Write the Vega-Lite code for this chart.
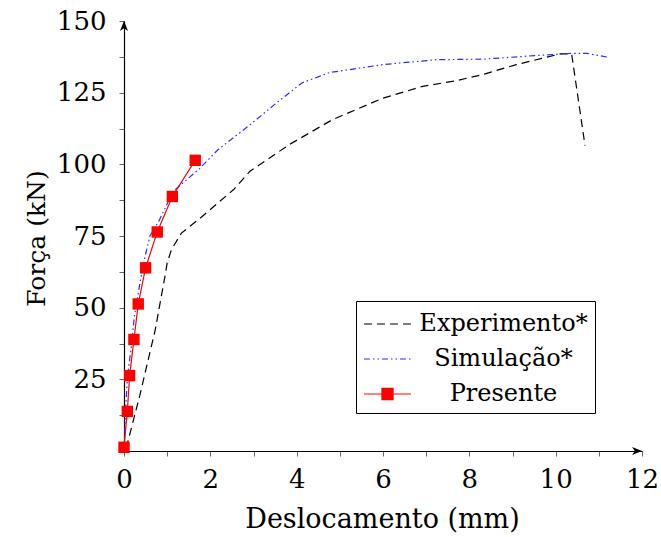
{
  "$schema": "https://vega.github.io/schema/vega-lite/v6.json",
  "width": 518,
  "height": 430,
  "autosize": "none",
  "padding": {"left": 124, "top": 21, "right": 19, "bottom": 86},
  "background": "white",
  "config": {"view": {"stroke": null}, "font": "DejaVu Serif"},
  "datasets": {
    "curves": [
      {"series": "Experimento*", "x": 0.05, "y": 1},
      {"series": "Experimento*", "x": 0.36, "y": 19},
      {"series": "Experimento*", "x": 0.72, "y": 42},
      {"series": "Experimento*", "x": 0.95, "y": 61},
      {"series": "Experimento*", "x": 1.0, "y": 65.6},
      {"series": "Experimento*", "x": 1.1, "y": 70.3},
      {"series": "Experimento*", "x": 1.33, "y": 76},
      {"series": "Experimento*", "x": 1.77, "y": 81.3},
      {"series": "Experimento*", "x": 2.54, "y": 91.2},
      {"series": "Experimento*", "x": 2.92, "y": 97.6},
      {"series": "Experimento*", "x": 3.83, "y": 106.9},
      {"series": "Experimento*", "x": 4.83, "y": 115.6},
      {"series": "Experimento*", "x": 6.0, "y": 123.1},
      {"series": "Experimento*", "x": 6.92, "y": 127.2},
      {"series": "Experimento*", "x": 7.7, "y": 129.2},
      {"series": "Experimento*", "x": 8.3, "y": 131.3},
      {"series": "Experimento*", "x": 9.09, "y": 134.8},
      {"series": "Experimento*", "x": 10.1, "y": 138.5},
      {"series": "Experimento*", "x": 10.37, "y": 138.5},
      {"series": "Experimento*", "x": 10.68, "y": 106.5},
      {"series": "Simulação*", "x": 0.0, "y": 0},
      {"series": "Simulação*", "x": 0.03, "y": 12},
      {"series": "Simulação*", "x": 0.08, "y": 26},
      {"series": "Simulação*", "x": 0.17, "y": 36.5},
      {"series": "Simulação*", "x": 0.24, "y": 47},
      {"series": "Simulação*", "x": 0.37, "y": 58.7},
      {"series": "Simulação*", "x": 0.49, "y": 68},
      {"series": "Simulação*", "x": 0.6, "y": 75},
      {"series": "Simulação*", "x": 0.8, "y": 80},
      {"series": "Simulação*", "x": 1.14, "y": 90.6},
      {"series": "Simulação*", "x": 1.75, "y": 98.5},
      {"series": "Simulação*", "x": 2.17, "y": 105},
      {"series": "Simulação*", "x": 2.92, "y": 113.8},
      {"series": "Simulação*", "x": 3.5, "y": 121},
      {"series": "Simulação*", "x": 4.12, "y": 128.4},
      {"series": "Simulação*", "x": 4.76, "y": 132},
      {"series": "Simulação*", "x": 6.0, "y": 134.8},
      {"series": "Simulação*", "x": 7.24, "y": 136.5},
      {"series": "Simulação*", "x": 8.33, "y": 136.7},
      {"series": "Simulação*", "x": 9.5, "y": 137.9},
      {"series": "Simulação*", "x": 10.35, "y": 138.7},
      {"series": "Simulação*", "x": 10.73, "y": 138.7},
      {"series": "Simulação*", "x": 11.2, "y": 137.4},
      {"series": "Presente", "x": 0.0, "y": 1.3},
      {"series": "Presente", "x": 0.077, "y": 13.8},
      {"series": "Presente", "x": 0.13, "y": 26.3},
      {"series": "Presente", "x": 0.23, "y": 38.9},
      {"series": "Presente", "x": 0.33, "y": 51.3},
      {"series": "Presente", "x": 0.5, "y": 63.9},
      {"series": "Presente", "x": 0.77, "y": 76.4},
      {"series": "Presente", "x": 1.12, "y": 88.8},
      {"series": "Presente", "x": 1.65, "y": 101.4}
    ],
    "arrows": [
      {"x": 0, "y": 150, "dir": "up"},
      {"x": 12, "y": 0, "dir": "right"}
    ]
  },
  "encoding": {
    "x": {
      "field": "x", "type": "quantitative",
      "scale": {"domain": [0, 12], "nice": false, "zero": false},
      "axis": {
        "title": "Deslocamento (mm)",
        "values": [0, 1, 2, 3, 4, 5, 6, 7, 8, 9, 10, 11, 12],
        "labelExpr": "datum.value % 2 === 0 ? datum.label : ''",
        "labelOverlap": false, "labelFlush": false, "grid": false,
        "domainColor": "black", "domainWidth": 1.2,
        "tickColor": "#666", "tickSize": 5, "tickWidth": 1,
        "labelFont": "DejaVu Serif", "labelFontSize": 26, "labelColor": "black", "labelPadding": 10,
        "titleFont": "DejaVu Serif", "titleFontSize": 27, "titleFontWeight": "normal", "titleColor": "black",
        "titleX": 258, "titleY": 76, "titleBaseline": "alphabetic", "titleAlign": "center"
      }
    },
    "y": {
      "field": "y", "type": "quantitative",
      "scale": {"domain": [0, 150], "nice": false},
      "axis": {
        "title": "Força (kN)",
        "values": [12.5, 25, 37.5, 50, 62.5, 75, 87.5, 100, 112.5, 125, 137.5, 150],
        "labelExpr": "datum.value % 25 === 0 ? datum.label : ''",
        "labelOverlap": false, "labelFlush": false, "grid": false,
        "domainColor": "black", "domainWidth": 1.2,
        "tickColor": "#666", "tickSize": 5, "tickWidth": 1,
        "labelFont": "DejaVu Serif", "labelFontSize": 26, "labelColor": "black", "labelPadding": 13,
        "titleFont": "DejaVu Serif", "titleFontSize": 25, "titleFontWeight": "normal", "titleColor": "black",
        "titleX": -80, "titleY": 217, "titleAngle": -90, "titleBaseline": "alphabetic", "titleAlign": "center"
      }
    }
  },
  "layer": [
    {
      "data": {"name": "curves"},
      "mark": {"type": "line", "strokeWidth": 1.2},
      "encoding": {
        "color": {
          "field": "series", "type": "nominal",
          "scale": {"domain": ["Experimento*", "Simulação*", "Presente"], "range": ["black", "#2a2aff", "red"]},
          "legend": {
            "orient": "none", "legendX": 232, "legendY": 280, "title": null,
            "strokeColor": "black", "fillColor": "white", "padding": 7, "cornerRadius": 0,
            "labelFont": "DejaVu Serif", "labelFontSize": 24, "labelColor": "black",
            "labelAlign": "center", "labelOffset": 100, "labelLimit": 400,
            "symbolSize": 900, "symbolStrokeWidth": 1.2, "symbolOffset": 8.5, "rowPadding": 7,
            "encode": {
              "symbols": {
                "update": {
                  "shape": {"signal": "datum.value === 'Presente' ? 'M-1.57,0H1.57M-0.37,-0.37H0.37V0.37H-0.37Z' : 'M-1.57,0H1.57'"},
                  "fill": {"signal": "datum.value === 'Presente' ? 'red' : 'transparent'"}
                }
              }
            }
          }
        },
        "strokeDash": {
          "field": "series", "type": "nominal",
          "scale": {"domain": ["Experimento*", "Simulação*", "Presente"], "range": [[8, 5], [6, 3, 1.5, 3, 1.5, 3], [1, 0]]}
        }
      }
    },
    {
      "data": {"name": "curves"},
      "transform": [{"filter": "datum.series === 'Presente'"}],
      "mark": {"type": "point", "shape": "square", "filled": true, "size": 130, "color": "red", "opacity": 1},
      "encoding": {}
    },
    {
      "data": {"name": "arrows"},
      "mark": {"type": "point", "filled": true, "color": "black", "opacity": 1, "size": 324},
      "encoding": {
        "shape": {
          "field": "dir", "type": "nominal",
          "scale": {"domain": ["up", "right"], "range": ["M0,0L-0.45,1.1L0,0.8L0.45,1.1Z", "M0,0L-1.1,-0.45L-0.8,0L-1.1,0.45Z"]},
          "legend": null
        }
      }
    }
  ]
}
